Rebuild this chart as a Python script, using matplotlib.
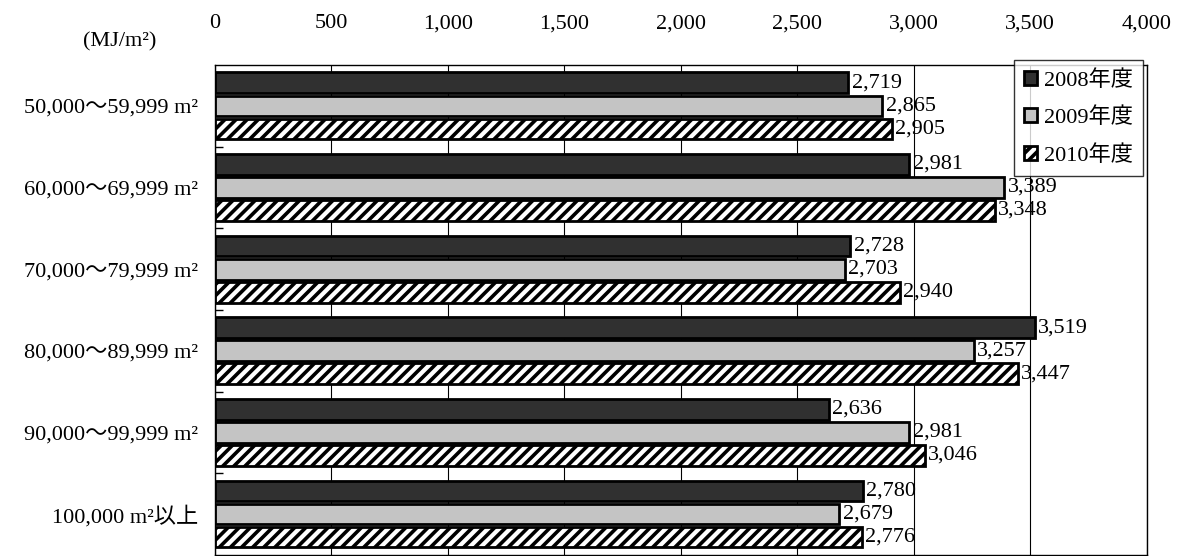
import matplotlib
matplotlib.use("Agg")
import matplotlib.pyplot as plt
import numpy as np

plt.rcParams['font.family'] = ['Liberation Serif', 'Noto Sans CJK JP', 'DejaVu Sans']
plt.rcParams['hatch.linewidth'] = 2.6

# data (MJ/m2)
categories = ['50,000～59,999 m²', '60,000～69,999 m²', '70,000～79,999 m²',
              '80,000～89,999 m²', '90,000～99,999 m²', '100,000 m²以上']
years = ['2008年度', '2009年度', '2010年度']
v2008 = [2719, 2981, 2728, 3519, 2636, 2780]
v2009 = [2865, 3389, 2703, 3257, 2981, 2679]
v2010 = [2905, 3348, 2940, 3447, 3046, 2776]
xticks = [0, 500, 1000, 1500, 2000, 2500, 3000, 3500, 4000]

fig = plt.figure(figsize=(11.81, 5.56), dpi=100)
ax = fig.add_axes([0.182, 0.002, 0.789, 0.881])

y = np.arange(len(categories))
h = 0.282
styles = [dict(color='#303030', edgecolor='black'),
          dict(color='#c4c4c4', edgecolor='black'),
          dict(color='white', edgecolor='black', hatch='///')]
series = [v2008, v2009, v2010]
for k, (vals, st) in enumerate(zip(series, styles)):
    yy = y + (k - 1) * h
    ax.barh(yy, vals, height=h * 0.9, linewidth=2, label=years[k], zorder=2, **st)
    for yi, v in zip(yy, vals):
        ax.text(v + 15, yi, f'{v:,}', va='center', ha='left', fontsize=16, zorder=3)

ax.set_xlim(0, 4000)
ax.set_ylim(5.5, -0.5)
ax.xaxis.tick_top()
ax.set_xticks(xticks)
ax.set_xticklabels([f'{t:,}' for t in xticks])
ax.tick_params(axis='x', length=0, pad=23, labelsize=16)
ax.set_yticks(y)
ax.set_yticklabels(categories)
ax.tick_params(axis='y', length=0, pad=12, labelsize=16)
ax.set_yticks(np.arange(0.5, 5.5, 1), minor=True)
ax.tick_params(axis='y', which='minor', direction='in', length=6, width=1)
ax.grid(axis='x', color='black', linewidth=0.8)
ax.set_axisbelow(True)
for s in ax.spines.values():
    s.set_color('black')
    s.set_linewidth(1.0)

fig.text(120 / 1181, 1 - 42 / 556, '(MJ/m²)', ha='center', va='center', fontsize=16)

leg = ax.legend(loc='upper right', bbox_to_anchor=(1143 / 1181, 1 - 60 / 556),
                bbox_transform=fig.transFigure, borderaxespad=0, fontsize=16,
                handlelength=0.6, handleheight=0.6, handletextpad=0.3,
                labelspacing=0.75, borderpad=0.45, frameon=True, fancybox=False,
                edgecolor='black')
leg.get_frame().set_linewidth(1.0)
leg.set_zorder(5)

fig.savefig('out.png', dpi=100)
